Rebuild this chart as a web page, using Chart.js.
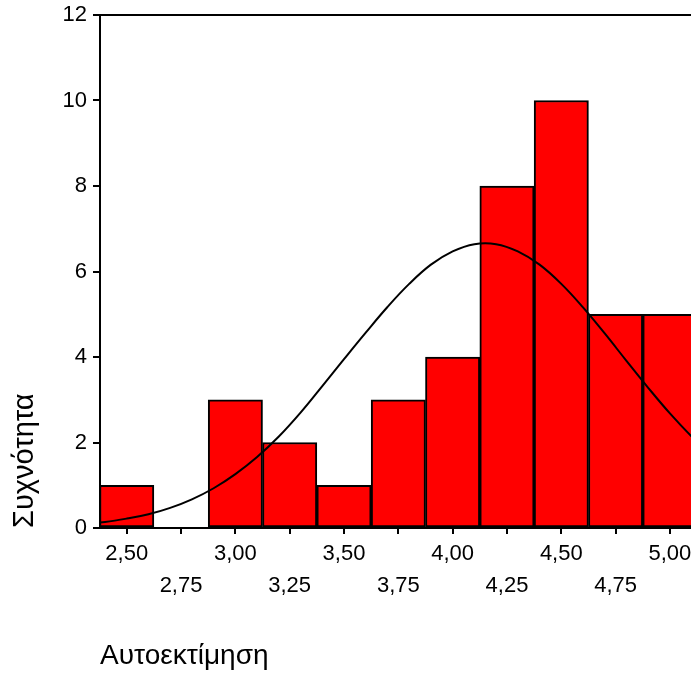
<!DOCTYPE html>
<html>
<head>
<meta charset="utf-8">
<script src="https://cdn.jsdelivr.net/npm/chart.js@4/dist/chart.umd.min.js"></script>
<style>
    html, body { margin: 0; padding: 0; background: #fff; }
</style>
</head>
<body>
<canvas id="histChart" width="691" height="676"></canvas>
<script>
// Κλάσεις ιστογράμματος (κέντρα) και συχνότητες
const binCenters = [2.50, 2.75, 3.00, 3.25, 3.50, 3.75, 4.00, 4.25, 4.50, 4.75, 5.00];
const frequencies = [1, null, 3, 2, 1, 3, 4, 8, 10, 5, 5];
const xTickLabels = ['2,50', '2,75', '3,00', '3,25', '3,50', '3,75', '4,00', '4,25', '4,50', '4,75', '5,00'];
const yTicks = [0, 2, 4, 6, 8, 10, 12];

// Καμπύλη κανονικής κατανομής, τιμές διαβασμένες από το γράφημα
const curveX = [2.30, 2.40, 2.50, 2.60, 2.70, 2.80, 2.90, 3.00, 3.10, 3.20, 3.30, 3.40, 3.50, 3.60, 3.70,
                3.80, 3.90, 4.00, 4.10, 4.20, 4.30, 4.40, 4.50, 4.60, 4.70, 4.80, 4.90, 5.00, 5.10, 5.20];
const curveY = [0.09, 0.14, 0.22, 0.32, 0.47, 0.67, 0.93, 1.26, 1.66, 2.14, 2.70, 3.32, 3.95, 4.57, 5.17,
                5.71, 6.16, 6.47, 6.64, 6.64, 6.47, 6.16, 5.71, 5.16, 4.55, 3.91, 3.28, 2.68, 2.14, 1.66];

const fontFamily = '"Liberation Sans", Arial, sans-serif';

const topBorder = {
    id: 'topBorder',
    afterDraw(chart) {
        const { ctx, chartArea } = chart;
        ctx.save();
        ctx.strokeStyle = '#000';
        ctx.lineWidth = 2;
        ctx.beginPath();
        ctx.moveTo(chartArea.left, chartArea.top);
        ctx.lineTo(chartArea.right, chartArea.top);
        ctx.stroke();
        ctx.restore();
    }
};

new Chart(document.getElementById('histChart'), {
    type: 'bar',
    data: {
        datasets: [{
            type: 'line',
            data: curveX.map((x, i) => ({ x: x, y: curveY[i] })),
            borderColor: '#000',
            borderWidth: 2,
            pointRadius: 0,
            tension: 0.4,
            fill: false,
            order: 0
        }, {
            data: binCenters.map((x, i) => ({ x: x, y: frequencies[i] })),
            backgroundColor: '#ff0000',
            borderColor: '#000',
            borderWidth: 2,
            borderSkipped: false,
            barPercentage: 1,
            categoryPercentage: 1,
            order: 1
        }]
    },
    options: {
        responsive: false,
        animation: false,
        layout: { padding: { top: 15, right: 0, bottom: 0, left: 0 } },
        plugins: {
            legend: { display: false },
            tooltip: { enabled: false }
        },
        scales: {
            x: {
                type: 'linear',
                offset: false,
                min: 2.377,
                max: 5.097,
                afterBuildTicks: scale => {
                    scale.ticks = binCenters.map(v => ({ value: v }));
                },
                afterFit: scale => {
                    scale.height = 148;
                    scale.paddingLeft = 0;
                    scale.paddingRight = 0;
                },
                grid: {
                    offset: false,
                    drawOnChartArea: false,
                    color: '#000',
                    lineWidth: 2,
                    tickLength: 6
                },
                border: { color: '#000', width: 2 },
                ticks: {
                    autoSkip: false,
                    maxRotation: 0,
                    color: '#000',
                    padding: 4,
                    font: { family: fontFamily, size: 22, lineHeight: 1.45 },
                    callback: (value, index) => index % 2 === 0 ? [xTickLabels[index], ''] : ['', xTickLabels[index]]
                },
                title: {
                    display: true,
                    text: 'Αυτοεκτίμηση',
                    align: 'start',
                    color: '#000',
                    font: { family: fontFamily, size: 28 },
                    padding: { top: 0, bottom: 3 }
                }
            },
            y: {
                min: 0,
                max: 12,
                afterBuildTicks: scale => {
                    scale.ticks = yTicks.map(v => ({ value: v }));
                },
                afterFit: scale => {
                    scale.width = 100;
                    scale.paddingTop = 0;
                    scale.paddingBottom = 0;
                },
                grid: {
                    drawOnChartArea: false,
                    color: '#000',
                    lineWidth: 2,
                    tickLength: 7
                },
                border: { color: '#000', width: 2 },
                ticks: {
                    color: '#000',
                    padding: 6,
                    font: { family: fontFamily, size: 22 }
                },
                title: {
                    display: true,
                    text: 'Συχνότητα',
                    align: 'start',
                    color: '#000',
                    font: { family: fontFamily, size: 29 },
                    padding: { top: 8, bottom: 0 }
                }
            }
        }
    },
    plugins: [topBorder]
});
</script>
</body>
</html>
